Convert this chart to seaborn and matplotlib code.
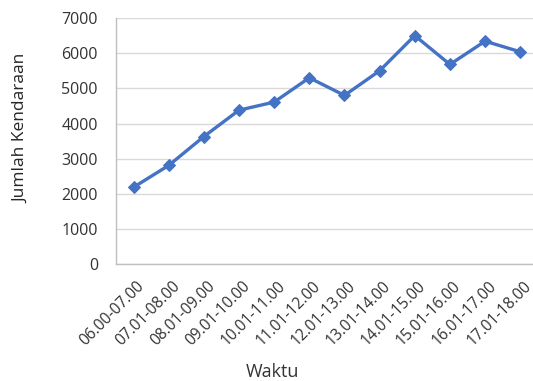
import matplotlib
matplotlib.use("Agg")
import matplotlib.pyplot as plt
import matplotlib.transforms as mtransforms
import seaborn as sns
import pandas as pd
import numpy as np

# Vehicle counts per hourly interval
waktu = ["06.00-07.00", "07.01-08.00", "08.01-09.00", "09.01-10.00",
         "10.01-11.00", "11.01-12.00", "12.01-13.00", "13.01-14.00",
         "14.01-15.00", "15.01-16.00", "16.01-17.00", "17.01-18.00"]
jumlah = [2190, 2810, 3630, 4380, 4610, 5300, 4800, 5500, 6500, 5680, 6340, 6040]
y_ticks = [0, 1000, 2000, 3000, 4000, 5000, 6000, 7000]

df = pd.DataFrame({"Waktu": waktu, "Jumlah": jumlah})

sns.set_theme(style="white")
plt.rcParams["font.family"] = ["Open Sans", "DejaVu Sans"]

fig = plt.figure(figsize=(5.33, 3.81), dpi=100)
ax = fig.add_axes([0.2176, 0.3063, 0.7914, 0.6465])

sns.lineplot(data=df, x="Waktu", y="Jumlah", sort=False, ax=ax,
             color="#4472C4", linewidth=2.4, marker="D", markersize=6.5,
             markeredgecolor="#4472C4")

ax.set_ylim(0, 7000)
ax.set_xlim(-0.5, len(waktu) - 0.5)
ax.set_yticks(y_ticks)
ax.set_yticklabels([str(v) for v in y_ticks], fontsize=11.5, color="#333333")

ax.set_xticks(range(len(waktu)))
ax.set_xticklabels(waktu, rotation=45, ha="right", va="top",
                   rotation_mode="anchor", fontsize=11.2, color="#333333")
ax.tick_params(axis="x", which="major", length=0, pad=10)
shift = mtransforms.ScaledTranslation(3 / 100, 0, fig.dpi_scale_trans)
for lbl in ax.get_xticklabels():
    lbl.set_transform(lbl.get_transform() + shift)
ax.set_xticks(np.arange(-0.5, len(waktu), 1.0), minor=True)
ax.tick_params(axis="x", which="minor", length=5, color="#BFBFBF", width=1)
ax.tick_params(axis="y", length=5, color="#BFBFBF", width=1, pad=8)

ax.grid(axis="y", color="#D9D9D9", linewidth=1)
ax.set_axisbelow(True)
for side in ["top", "right"]:
    ax.spines[side].set_visible(False)
for side in ["left", "bottom"]:
    ax.spines[side].set_color("#BFBFBF")
    ax.spines[side].set_linewidth(1)

ax.set_xlabel("Waktu", fontsize=13, color="#333333")
ax.xaxis.set_label_coords(0.37, -0.40)
ax.set_ylabel("Jumlah Kendaraan", fontsize=12.5, color="#262626")
ax.yaxis.set_label_coords(-0.205, 0.55)

fig.savefig("out.png", dpi=100)
